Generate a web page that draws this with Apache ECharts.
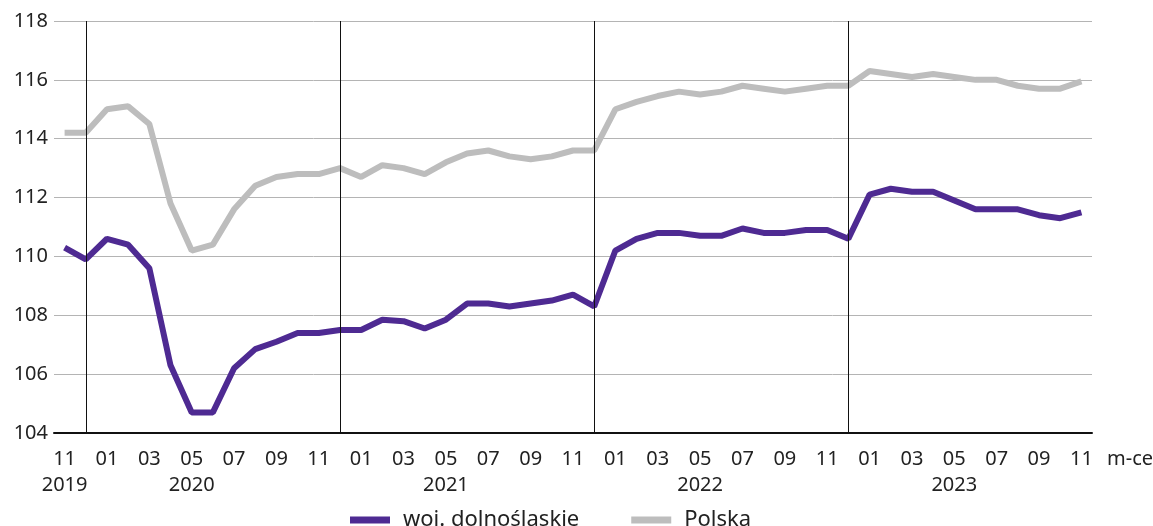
<!DOCTYPE html>
<html>
<head>
<meta charset="utf-8">
<script src="https://cdn.jsdelivr.net/npm/echarts@6/dist/echarts.min.js"></script>
<style>
  html, body { margin: 0; padding: 0; background: #fff; }
  #chart { width: 1153px; height: 526px; }
</style>
</head>
<body>
<div id="chart"></div>
<script>
  // months 11/2019 .. 11/2023
  var months = [
    '11', '12',
    '01', '02', '03', '04', '05', '06', '07', '08', '09', '10', '11', '12',
    '01', '02', '03', '04', '05', '06', '07', '08', '09', '10', '11', '12',
    '01', '02', '03', '04', '05', '06', '07', '08', '09', '10', '11', '12',
    '01', '02', '03', '04', '05', '06', '07', '08', '09', '10', '11'
  ];
  // year caption shown under a given category index
  var yearLabels = { 0: '2019', 6: '2020', 18: '2021', 30: '2022', 42: '2023' };
  // december positions -> vertical separators
  var yearBreaks = [1, 13, 25, 37];

  var dolnoslaskie = [
    110.3, 109.9,
    110.6, 110.4, 109.6, 106.3, 104.7, 104.7, 106.2, 106.85, 107.1, 107.4, 107.4, 107.5,
    107.5, 107.85, 107.8, 107.55, 107.85, 108.4, 108.4, 108.3, 108.4, 108.5, 108.7, 108.3,
    110.2, 110.6, 110.8, 110.8, 110.7, 110.7, 110.95, 110.8, 110.8, 110.9, 110.9, 110.6,
    112.1, 112.3, 112.2, 112.2, 111.9, 111.6, 111.6, 111.6, 111.4, 111.3, 111.5
  ];
  var polska = [
    114.2, 114.2,
    115.0, 115.1, 114.5, 111.8, 110.2, 110.4, 111.6, 112.4, 112.7, 112.8, 112.8, 113.0,
    112.7, 113.1, 113.0, 112.8, 113.2, 113.5, 113.6, 113.4, 113.3, 113.4, 113.6, 113.6,
    115.0, 115.25, 115.45, 115.6, 115.5, 115.6, 115.8, 115.7, 115.6, 115.7, 115.8, 115.8,
    116.3, 116.2, 116.1, 116.2, 116.1, 116.0, 116.0, 115.8, 115.7, 115.7, 115.95
  ];

  var fontFamily = 'Noto Sans';
  var categories = months.map(function (m, i) { return i; });

  var myChart = echarts.init(document.getElementById('chart'));
  myChart.setOption({
    animation: false,
    textStyle: { fontFamily: fontFamily },
    grid: { left: 54, right: 61, top: 21, bottom: 93, outerBoundsMode: 'none' },
    legend: {
      left: 345,
      top: 504,
      itemWidth: 40,
      itemHeight: 7,
      itemGap: 52,
      icon: 'rect',
      textStyle: { fontSize: 22, color: '#222', fontFamily: fontFamily, padding: [0, 0, 0, 8] },
      data: ['woj. dolnośląskie', 'Polska']
    },
    xAxis: {
      type: 'category',
      data: categories,
      boundaryGap: true,
      name: 'm-ce',
      nameLocation: 'end',
      nameGap: 15,
      nameTextStyle: { fontSize: 20, color: '#222', verticalAlign: 'top', padding: [16, 0, 0, 0] },
      axisLine: { lineStyle: { color: '#111', width: 2 } },
      axisTick: { alignWithLabel: true, interval: 0, length: 3, lineStyle: { color: '#111' } },
      axisLabel: {
        interval: 1,
        margin: 13,
        fontSize: 20,
        lineHeight: 26,
        color: '#222',
        formatter: function (value) {
          var i = Number(value);
          return yearLabels[i] ? months[i] + '\n' + yearLabels[i] : months[i];
        }
      },
      splitLine: { show: false }
    },
    yAxis: {
      type: 'value',
      min: 104,
      max: 118,
      interval: 2,
      axisLine: { show: false },
      axisTick: { show: false },
      axisLabel: { fontSize: 20, color: '#222', margin: 6 },
      splitLine: { lineStyle: { color: '#b4b4b4', width: 1 } }
    },
    series: [
      {
        name: 'woj. dolnośląskie',
        type: 'line',
        data: dolnoslaskie,
        symbol: 'none',
        z: 3,
        color: '#4e2a92',
        lineStyle: { width: 6, color: '#4e2a92' },
        markLine: {
          silent: true,
          symbol: 'none',
          label: { show: false },
          lineStyle: { color: '#111', width: 1, type: 'solid' },
          data: yearBreaks.map(function (i) { return { xAxis: i }; })
        }
      },
      {
        name: 'Polska',
        type: 'line',
        data: polska,
        symbol: 'none',
        z: 2,
        color: '#bdbdbd',
        lineStyle: { width: 6, color: '#bdbdbd' }
      }
    ]
  });
</script>
</body>
</html>
